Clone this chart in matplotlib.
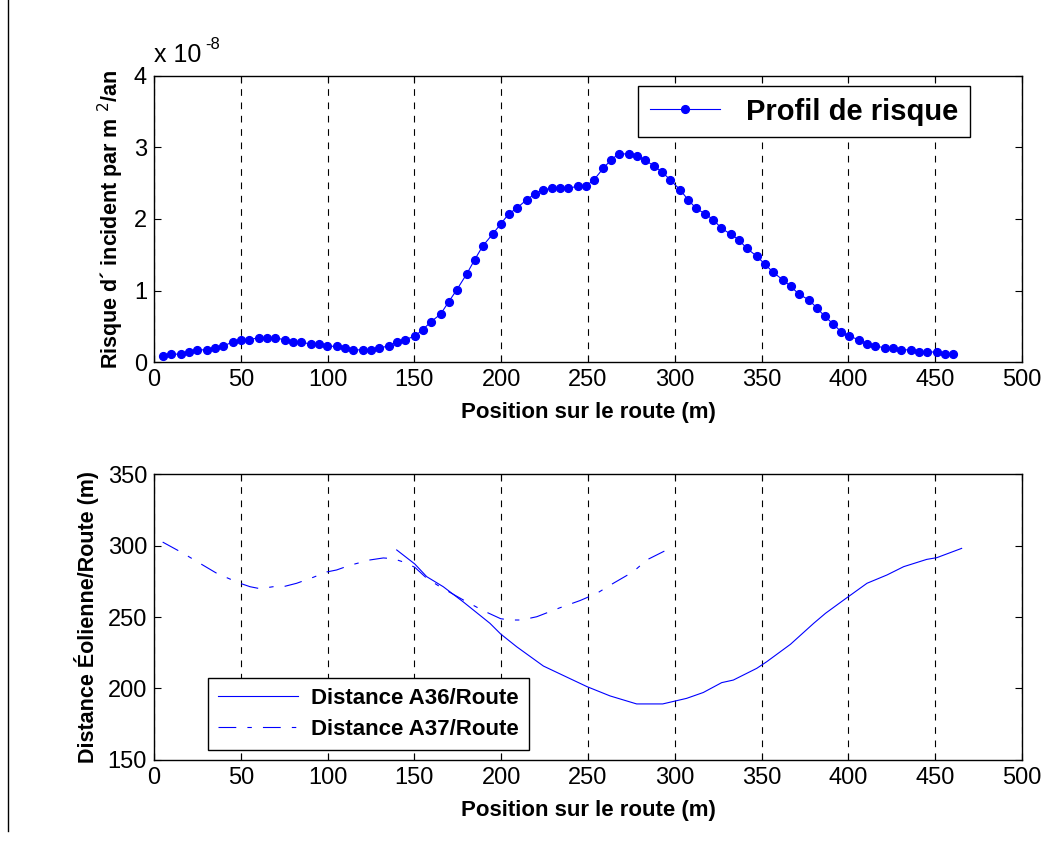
import numpy as np
import matplotlib
matplotlib.use("Agg")
import matplotlib.pyplot as plt
from matplotlib.lines import Line2D

# risk profile (units of 1e-8 per m2 per year)
pos_risk = [5, 9.6, 15.4, 20, 24.6, 30.3, 35, 39.6, 45.3, 49.9, 54.5, 60.3, 64.9, 69.5,
            75.3, 79.9, 84.5, 90.3, 94.9, 99.5, 105.2, 109.8, 114.4, 120.2, 124.8, 129.4,
            135.1, 139.7, 144.3, 150.1, 154.7, 159.4, 165.1, 169.7, 174.4, 180.1, 184.7,
            189.3, 195.1, 199.7, 204.3, 208.9, 214.7, 219.3, 223.9, 229.5, 234.1, 238.7,
            244.4, 248.8, 253.5, 258.8, 263.4, 267.7, 273.4, 278.0, 282.6, 288.0, 292.6,
            297.2, 303.0, 307.6, 312.2, 317.6, 322.2, 326.8, 332.1, 336.8, 341.4, 347.2,
            351.8, 356.4, 362.1, 366.7, 371.4, 377.1, 381.7, 386.3, 391.3, 395.9, 400.5,
            406.3, 410.9, 415.5, 421.3, 425.9, 430.5, 436.3, 440.5, 445.1, 450.9, 455.5,
            460.1]
risk = [0.08, 0.11, 0.11, 0.14, 0.17, 0.17, 0.20, 0.22, 0.28, 0.31, 0.31, 0.34, 0.34, 0.34,
        0.31, 0.28, 0.28, 0.25, 0.25, 0.22, 0.22, 0.20, 0.17, 0.17, 0.17, 0.20,
        0.22, 0.28, 0.31, 0.36, 0.45, 0.56, 0.67, 0.84, 1.01, 1.23, 1.43,
        1.62, 1.79, 1.93, 2.07, 2.15, 2.27, 2.35, 2.41, 2.43, 2.43, 2.43,
        2.46, 2.46, 2.55, 2.71, 2.83, 2.91, 2.91, 2.88, 2.83, 2.74, 2.66,
        2.55, 2.41, 2.27, 2.15, 2.07, 1.99, 1.87, 1.79, 1.71, 1.59, 1.48,
        1.37, 1.26, 1.15, 1.06, 0.95, 0.87, 0.76, 0.64, 0.53, 0.42, 0.36,
        0.31, 0.25, 0.22, 0.20, 0.20, 0.17, 0.17, 0.14, 0.14, 0.14, 0.11,
        0.11]

# distance turbine / road
pos_a36 = [139.8, 150.2, 157.1, 166.6, 178.2, 193.5, 199.7, 208.9, 224.3, 237.7, 249.4,
           262.7, 278.0, 293.0, 306.8, 316.4, 327.0, 333.7, 347.2, 352.9, 366.6, 380.0,
           386.8, 397.3, 410.7, 422.2, 431.8, 445.1, 450.9, 465.2]
dist_a36 = [296.9, 287.1, 278.2, 271.2, 260.5, 245.6, 238.1, 229.2, 215.7, 208.0, 201.3,
            194.8, 189.2, 189.2, 193.1, 197.2, 204.1, 205.9, 214.1, 218.7, 230.9, 245.6,
            252.6, 261.9, 273.6, 279.4, 285.2, 290.3, 291.5, 298.0]

pos_a37 = [5, 16.9, 26.5, 36.1, 48.6, 55.3, 61.1, 68.7, 74.5, 82.2, 91.8, 99.5, 105.2,
           112.9, 124.4, 132.1, 137.8, 143.6, 150.2, 157.1, 164.7, 178.2, 189.7, 199.7,
           205.1, 211.8, 220.5, 233.9, 245.4, 255.0, 264.6, 276.1, 283.8, 297.6]
dist_a37 = [302.4, 294.5, 287.5, 280.6, 274.0, 271.2, 269.8, 271.2, 271.2, 273.6, 277.8,
            281.5, 282.9, 286.2, 289.9, 291.3, 290.8, 288.5, 284.8, 277.1, 271.2, 261.9,
            254.4, 248.8, 247.9, 247.9, 250.2, 256.5, 261.5, 266.5, 273.6, 281.7, 289.9,
            298.3]

xticks = [0, 50, 100, 150, 200, 250, 300, 350, 400, 450, 500]

plt.rcParams['font.family'] = ['Liberation Sans', 'DejaVu Sans']

fig = plt.figure(figsize=(10.49, 8.48), dpi=100)
ax1 = fig.add_axes([0.1468, 0.5731, 0.8275, 0.3373])
ax2 = fig.add_axes([0.1468, 0.1038, 0.8275, 0.3372])

# page border line on the left
fig.add_artist(Line2D([8 / 1049, 8 / 1049], [1.0, 0.02], color='black', lw=1.0))

ax1.plot(pos_risk, risk, '-o', color='blue', lw=0.8, ms=5.6, label='Profil de risque')
ax1.set_xlim(0, 500)
ax1.set_ylim(0, 4)
ax1.set_yticks([0, 1, 2, 3, 4])
ax1.text(0.0, 1.03, 'x 10', transform=ax1.transAxes, fontsize=18, va='bottom')
ax1.text(0.059, 1.085, '-8', transform=ax1.transAxes, fontsize=12, va='bottom')
ax1.set_ylabel(r'Risque d´ incident par m $^2$/an', fontsize=15.5, fontweight='bold',
               labelpad=6)
ax1.legend(loc='upper right', bbox_to_anchor=(0.940, 0.965), borderaxespad=0,
           fancybox=False, edgecolor='black', framealpha=1,
           prop={'size': 21, 'weight': 'bold'}, handlelength=2.4,
           borderpad=0.4, handletextpad=0.9)

ax2.plot(pos_a36, dist_a36, '-', color='blue', lw=0.8, label='Distance A36/Route')
ax2.plot(pos_a37, dist_a37, '-.', color='blue', lw=0.8, label='Distance A37/Route',
         dashes=(16, 10, 4, 10))
ax2.set_xlim(0, 500)
ax2.set_ylim(150, 350)
ax2.set_yticks([150, 200, 250, 300, 350])
ax2.set_ylabel('Distance Éolienne/Route (m)', fontsize=15.5, fontweight='bold', labelpad=6)
ax2.legend(loc='lower left', bbox_to_anchor=(0.062, 0.035), borderaxespad=0,
           fancybox=False, edgecolor='black', framealpha=1,
           prop={'size': 16, 'weight': 'bold'}, handlelength=3.6,
           borderpad=0.45, labelspacing=0.45, handletextpad=0.6)

for ax in (ax1, ax2):
    ax.set_xticks(xticks)
    ax.set_xlabel('Position sur le route (m)', fontsize=16, fontweight='bold', labelpad=8)
    ax.tick_params(direction='in', top=True, right=True, labelsize=17, length=5, pad=5)
    ax.xaxis.grid(True, linestyle=(0, (6, 6)), color='black', lw=0.8)
    for s in ax.spines.values():
        s.set_linewidth(1.0)

fig.savefig('out.png', dpi=100)
